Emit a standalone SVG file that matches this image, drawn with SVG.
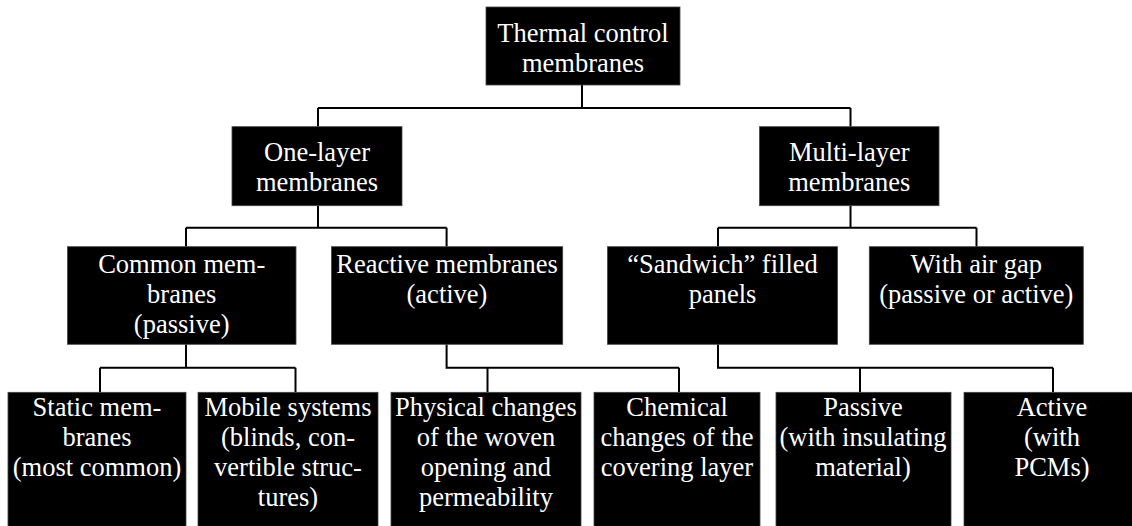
<svg xmlns="http://www.w3.org/2000/svg" width="1132" height="526" viewBox="0 0 1132 526">
<style>
.box{fill:#000;stroke:#444;stroke-width:0.8}
.t{font-family:'Liberation Serif','Tinos','Times New Roman','DejaVu Serif',serif;font-size:26.5px;fill:#fff;text-anchor:middle}
.c{fill:none;stroke:#000;stroke-width:2}
</style>
<rect width="1132" height="526" fill="#fff"/>
<g id="connectors" class="c">
<path d="M582,85 V108 M318,108 H850.5 M318,108 V126.7 M850.5,108 V126.7"/>
<path d="M318,205.7 V227.7 M186,227.7 H446.6 M186,227.7 V246.7 M446.6,227.7 V246.7"/>
<path d="M850.5,205.7 V227.7 M718,227.7 H976.5 M718,227.7 V246.7 M976.5,227.7 V246.7"/>
<path d="M186,344.3 V367.7 M100,367.7 H295.5 M100,367.7 V392.3 M295.5,367.7 V392.3"/>
<path d="M446.6,344.3 V367.7 H679 M487.5,367.7 V392.3 M679,367.7 V392.3"/>
<path d="M718,344.3 V367.7 H1053 M860,367.7 V392.3 M1053,367.7 V392.3"/>
</g>
<g font-family="Liberation Serif, serif">
<g id="root"><rect class="box" x="486" y="7" width="194" height="78"/>
<text class="t" x="583" y="42">Thermal control</text><text class="t" x="583" y="72">membranes</text></g>
<g id="one-layer"><rect class="box" x="232" y="126.7" width="170" height="79"/>
<text class="t" x="317" y="161">One-layer</text><text class="t" x="317" y="191">membranes</text></g>
<g id="multi-layer"><rect class="box" x="759.5" y="126.7" width="179.5" height="79"/>
<text class="t" x="849.3" y="161">Multi-layer</text><text class="t" x="849.3" y="191">membranes</text></g>
<g id="common"><rect class="box" x="67.5" y="246.7" width="228.5" height="97.6"/>
<text class="t" x="181.7" y="273.3">Common mem-</text><text class="t" x="181.7" y="303.3">branes</text><text class="t" x="181.7" y="333.3">(passive)</text></g>
<g id="reactive"><rect class="box" x="331.5" y="246.7" width="231.2" height="97.6"/>
<text class="t" x="447" y="273.3">Reactive membranes</text><text class="t" x="447" y="303.3">(active)</text></g>
<g id="sandwich"><rect class="box" x="607.5" y="246.7" width="230" height="97.6"/>
<text class="t" x="722.5" y="273.3">“Sandwich” filled</text><text class="t" x="722.5" y="303.3">panels</text></g>
<g id="airgap"><rect class="box" x="869.3" y="246.7" width="214" height="97.6"/>
<text class="t" x="976.3" y="273.3">With air gap</text><text class="t" x="976.3" y="303.3">(passive or active)</text></g>
<g id="static"><rect class="box" x="8" y="392.3" width="178" height="134"/>
<text class="t" x="97" y="416">Static mem-</text><text class="t" x="97" y="446">branes</text><text class="t" x="97" y="476">(most common)</text></g>
<g id="mobile"><rect class="box" x="198" y="392.3" width="180" height="134"/>
<text class="t" x="288" y="416">Mobile systems</text><text class="t" x="288" y="446">(blinds, con-</text><text class="t" x="288" y="476">vertible struc-</text><text class="t" x="288" y="506">tures)</text></g>
<g id="physical"><rect class="box" x="391" y="392.3" width="190" height="134"/>
<text class="t" x="486" y="416">Physical changes</text><text class="t" x="486" y="446">of the woven</text><text class="t" x="486" y="476">opening and</text><text class="t" x="486" y="506">permeability</text></g>
<g id="chemical"><rect class="box" x="594" y="392.3" width="166" height="134"/>
<text class="t" x="677" y="416">Chemical</text><text class="t" x="677" y="446">changes of the</text><text class="t" x="677" y="476">covering layer</text></g>
<g id="passive"><rect class="box" x="776" y="392.3" width="175" height="134"/>
<text class="t" x="863" y="416">Passive</text><text class="t" x="863" y="446">(with insulating</text><text class="t" x="863" y="476">material)</text></g>
<g id="active"><rect class="box" x="964" y="392.3" width="170" height="134"/>
<text class="t" x="1052" y="416">Active</text><text class="t" x="1052" y="446">(with</text><text class="t" x="1052" y="476">PCMs)</text></g>
</g>
</svg>
